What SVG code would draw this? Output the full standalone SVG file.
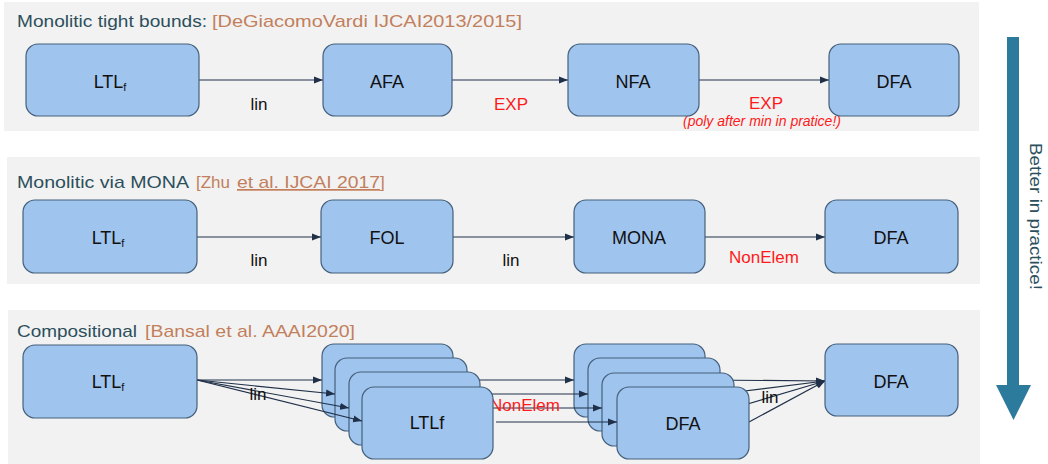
<svg xmlns="http://www.w3.org/2000/svg" width="1048" height="464" viewBox="0 0 1048 464">
  <style>
    .panel { fill: #f2f2f2; }
    .box { fill: #9fc4ed; stroke: #45607c; stroke-width: 1.2; }
    .lbl { font-family: "Liberation Sans", Arial, sans-serif; font-size: 18px; fill: #111111; text-anchor: middle; }
    .cost { font-family: "Liberation Sans", Arial, sans-serif; font-size: 17px; fill: #111111; text-anchor: middle; }
    .red { fill: #ff1a1a; }
    .start { text-anchor: start; }
    .note { font-family: "Liberation Sans", Arial, sans-serif; font-size: 14px; font-style: italic; fill: #ff1a1a; text-anchor: middle; }
    .title { font-family: "Liberation Sans", Arial, sans-serif; font-size: 17px; fill: #2c4f5c; }
    .ref { font-family: "Liberation Sans", Arial, sans-serif; font-size: 17px; fill: #c27f5c; }
    .edge { stroke: #1f3048; stroke-width: 1.2; fill: none; marker-end: url(#tip); }
    .side { font-family: "Liberation Sans", Arial, sans-serif; font-size: 16px; fill: #2c4f5c; }
  </style>
  <defs>
    <marker id="tip" markerUnits="userSpaceOnUse" markerWidth="10" markerHeight="8" refX="9" refY="4" orient="auto">
      <path d="M0,0.5 L9,4 L0,7.5 Z" fill="#1f3048"/>
    </marker>
  </defs>

  <!-- background bands -->
  <rect class="panel" x="4" y="2" width="975" height="129"/>
  <rect class="panel" x="7" y="157" width="973" height="127"/>
  <rect class="panel" x="8" y="310" width="972" height="154"/>

  <!-- band titles -->
  <g id="titles">
    <text class="title" x="17" y="27" textLength="190" lengthAdjust="spacingAndGlyphs">Monolitic tight bounds:</text>
    <text class="ref" x="212" y="27" textLength="310" lengthAdjust="spacingAndGlyphs">[DeGiacomoVardi IJCAI2013/2015]</text>
    <text class="title" x="17" y="188" textLength="172" lengthAdjust="spacingAndGlyphs">Monolitic via MONA</text>
    <text class="ref" x="196" y="188">[Zhu</text>
    <text class="ref" x="237" y="188" textLength="143" lengthAdjust="spacingAndGlyphs" text-decoration="underline">et al. IJCAI 2017</text>
    <text class="ref" x="380" y="188">]</text>
    <text class="title" x="17" y="337" textLength="120" lengthAdjust="spacingAndGlyphs">Compositional</text>
    <text class="ref" x="145" y="337" textLength="210" lengthAdjust="spacingAndGlyphs">[Bansal et al. AAAI2020]</text>
  </g>

  <!-- band 1: tight bounds -->
  <g id="connectors-1">
    <line class="edge" x1="199" y1="80" x2="323" y2="80"/>
    <line class="edge" x1="452" y1="80" x2="568" y2="80"/>
    <line class="edge" x1="699" y1="80" x2="829" y2="80"/>
    <text class="cost" x="259" y="110">lin</text>
    <text class="cost red" x="511" y="110">EXP</text>
    <text class="cost red" x="766" y="109">EXP</text>
    <text class="note" x="762" y="126">(poly after min in pratice!)</text>
  </g>
  <g id="b1-ltlf"><rect class="box" x="26" y="44" width="173" height="72" rx="12"/><text class="lbl" x="110" y="88">LTL<tspan font-size="11" dy="3">f</tspan></text></g>
  <g id="b1-afa"><rect class="box" x="323" y="44" width="129" height="72" rx="12"/><text class="lbl" x="387" y="88">AFA</text></g>
  <g id="b1-nfa"><rect class="box" x="568" y="44" width="131" height="72" rx="12"/><text class="lbl" x="633" y="88">NFA</text></g>
  <g id="b1-dfa"><rect class="box" x="829" y="44" width="130" height="72" rx="12"/><text class="lbl" x="894" y="88">DFA</text></g>

  <!-- band 2: via MONA -->
  <g id="connectors-2">
    <line class="edge" x1="197" y1="237" x2="321" y2="237"/>
    <line class="edge" x1="453" y1="237" x2="574" y2="237"/>
    <line class="edge" x1="705" y1="237" x2="825" y2="237"/>
    <text class="cost" x="259" y="266">lin</text>
    <text class="cost" x="511" y="266">lin</text>
    <text class="cost red" x="764" y="263">NonElem</text>
  </g>
  <g id="b2-ltlf"><rect class="box" x="23" y="200" width="174" height="73" rx="12"/><text class="lbl" x="108" y="244">LTL<tspan font-size="11" dy="3">f</tspan></text></g>
  <g id="b2-fol"><rect class="box" x="321" y="200" width="132" height="73" rx="12"/><text class="lbl" x="387" y="244">FOL</text></g>
  <g id="b2-mona"><rect class="box" x="574" y="200" width="131" height="73" rx="12"/><text class="lbl" x="639" y="244">MONA</text></g>
  <g id="b2-dfa"><rect class="box" x="825" y="200" width="133" height="73" rx="12"/><text class="lbl" x="891" y="244">DFA</text></g>

  <!-- band 3: compositional -->
  <g id="connectors-3-join">
    <line class="edge" x1="705" y1="380" x2="825" y2="381"/>
    <line class="edge" x1="720" y1="394" x2="825" y2="381"/>
    <line class="edge" x1="734" y1="408" x2="825" y2="381"/>
    <line class="edge" x1="749" y1="422" x2="825" y2="381"/>
  </g>
  <g id="b3-dfa-stack">
    <rect class="box" x="574" y="344" width="131" height="73" rx="12"/>
    <rect class="box" x="588" y="358" width="132" height="73" rx="12"/>
    <rect class="box" x="602" y="373" width="132" height="73" rx="12"/>
    <rect class="box" x="617" y="387" width="132" height="72" rx="12"/>
    <text class="lbl" x="683" y="430">DFA</text>
  </g>
  <g id="connectors-3-mid">
    <line class="edge" x1="453" y1="380" x2="574" y2="380"/>
    <line class="edge" x1="467" y1="394" x2="588" y2="394"/>
    <line class="edge" x1="480" y1="408" x2="602" y2="408"/>
    <line class="edge" x1="496" y1="422" x2="617" y2="422"/>
    <text class="cost red start" x="490" y="411">NonElem</text>
  </g>
  <g id="b3-ltlf-stack">
    <rect class="box" x="322" y="344" width="131" height="73" rx="12"/>
    <rect class="box" x="335" y="358" width="132" height="73" rx="12"/>
    <rect class="box" x="349" y="372" width="131" height="73" rx="12"/>
    <rect class="box" x="362" y="387" width="131" height="72" rx="12"/>
    <text class="lbl" x="427" y="429">LTLf</text>
  </g>
  <g id="connectors-3-split">
    <line class="edge" x1="197" y1="380" x2="322" y2="380"/>
    <line class="edge" x1="197" y1="380" x2="335" y2="394"/>
    <line class="edge" x1="197" y1="380" x2="349" y2="408"/>
    <line class="edge" x1="197" y1="380" x2="362" y2="421"/>
    <text class="cost" x="258" y="400">lin</text>
    <text class="cost" x="770" y="403">lin</text>
  </g>
  <g id="b3-ltlf"><rect class="box" x="23" y="345" width="174" height="73" rx="12"/><text class="lbl" x="108" y="388">LTL<tspan font-size="11" dy="3">f</tspan></text></g>
  <g id="b3-dfa"><rect class="box" x="825" y="344" width="133" height="72" rx="12"/><text class="lbl" x="891" y="388">DFA</text></g>

  <!-- side arrow -->
  <g id="better-arrow">
    <rect x="1007" y="37" width="12" height="349" fill="#2c7a9c"/>
    <path d="M996,385 L1031,385 L1013.5,420 Z" fill="#2c7a9c"/>
    <text class="side" transform="translate(1030,143) rotate(90)" textLength="147" lengthAdjust="spacingAndGlyphs">Better in practice!</text>
  </g>
</svg>
